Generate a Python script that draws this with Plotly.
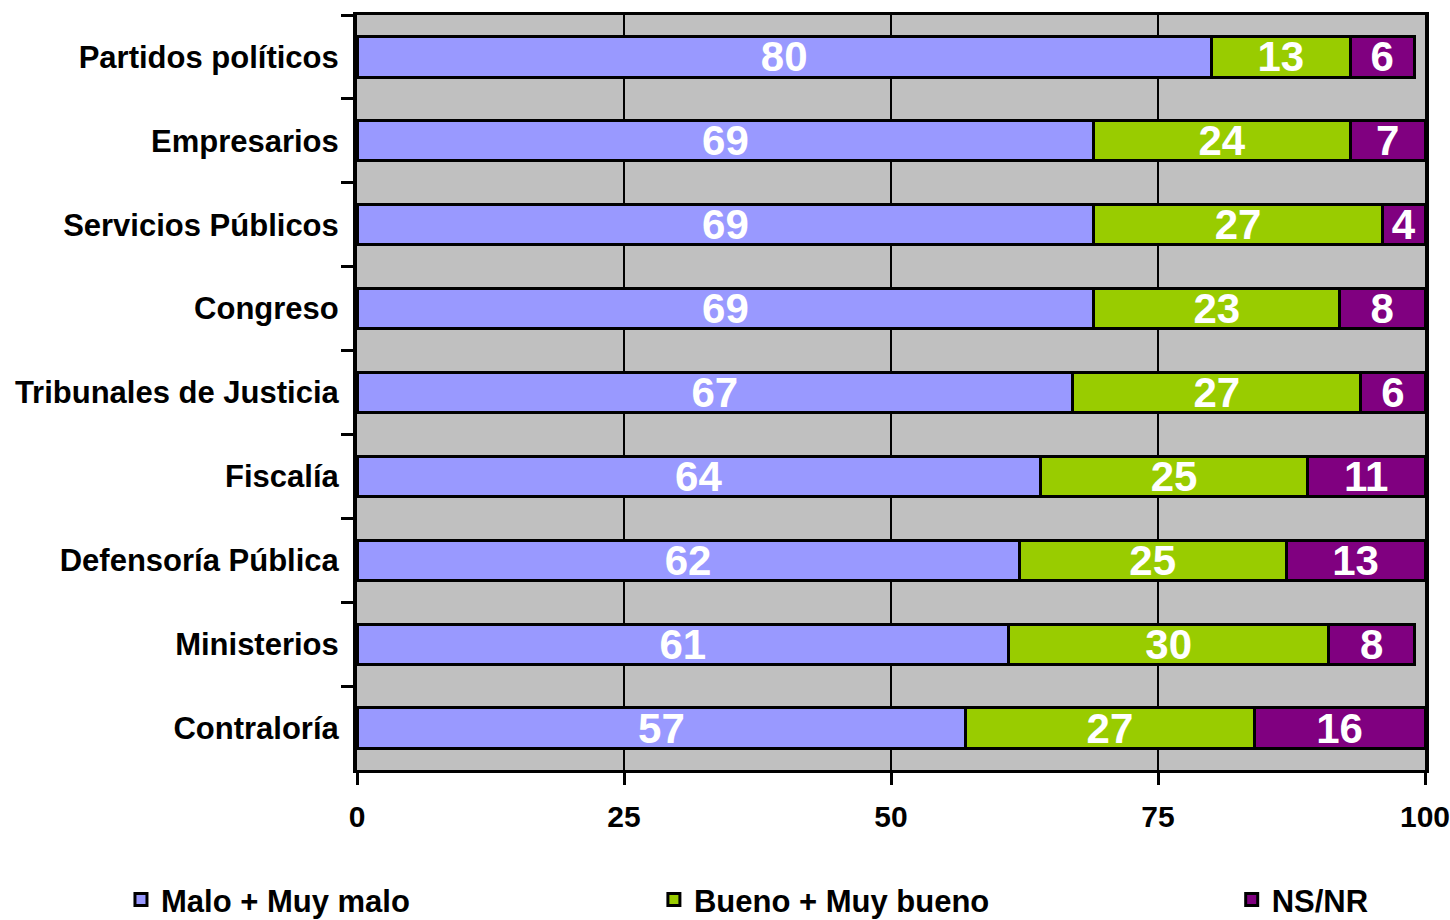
import plotly.graph_objects as go

categories = ["Partidos políticos", "Empresarios", "Servicios Públicos", "Congreso",
              "Tribunales de Justicia", "Fiscalía", "Defensoría Pública", "Ministerios", "Contraloría"]
malo = [80, 69, 69, 69, 67, 64, 62, 61, 57]
bueno = [13, 24, 27, 23, 27, 25, 25, 30, 27]
nsnr = [6, 7, 4, 8, 6, 11, 13, 8, 16]

series = [
    ("Malo + Muy malo", malo, "#9999FF", "legend"),
    ("Bueno + Muy bueno", bueno, "#99CC00", "legend2"),
    ("NS/NR", nsnr, "#800080", "legend3"),
]

FONT = "Liberation Sans, Arial, sans-serif"

fig = go.Figure()
for name, vals, color, leg in series:
    fig.add_trace(go.Bar(
        y=categories, x=vals, name=name, orientation="h",
        marker=dict(color=color, line=dict(color="black", width=3)),
        text=[str(v) for v in vals], textposition="inside", insidetextanchor="middle",
        textangle=0, constraintext="none",
        textfont=dict(family=FONT, size=42, color="white", weight="bold"),
        legend=leg, hoverinfo="x+y+name",
    ))

legfont = dict(family=FONT, size=31, weight="bold", color="black")
fig.update_layout(
    width=1450, height=920,
    barmode="stack", bargap=0.52,
    plot_bgcolor="#C0C0C0", paper_bgcolor="white",
    margin=dict(l=357, r=25, t=15, b=150, autoexpand=False),
    font=dict(family=FONT, size=31, color="black", weight="bold"),
    xaxis=dict(range=[0, 100], tickvals=[0, 25, 50, 75, 100], showgrid=True,
               gridcolor="black", gridwidth=2, zeroline=False,
               ticks="outside", ticklen=12, tickwidth=3, tickcolor="black",
               showline=True, linecolor="black", linewidth=3, mirror=True,
               ticklabeloverflow="allow",
               tickfont=dict(family=FONT, size=30, weight="bold"), ticklabelstandoff=6),
    yaxis=dict(autorange="reversed", tickson="boundaries", ticks="outside", ticklen=12,
               tickwidth=3, tickcolor="black", showline=True, linecolor="black",
               linewidth=4, mirror=True, showgrid=False,
               tickfont=dict(family=FONT, size=31, weight="bold"), ticklabelstandoff=8),
    legend=dict(x=-0.221, y=-0.172, xanchor="left", yanchor="middle",
                font=legfont, bgcolor="rgba(0,0,0,0)"),
    legend2=dict(x=0.278, y=-0.172, xanchor="left", yanchor="middle",
                 font=legfont, bgcolor="rgba(0,0,0,0)"),
    legend3=dict(x=0.819, y=-0.172, xanchor="left", yanchor="middle",
                 font=legfont, bgcolor="rgba(0,0,0,0)"),
    showlegend=True,
)

fig.write_html("out.html", config={"displayModeBar": False},
               post_script="document.body.style.margin='0';")
